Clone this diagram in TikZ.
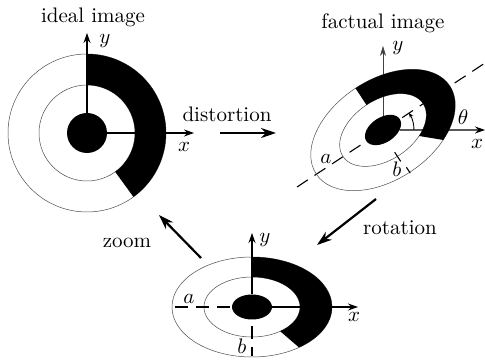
\documentclass[tikz,border=0pt]{standalone}
\usepackage{xcolor}
\usetikzlibrary{arrows.meta,shapes.geometric}

\begin{document}
\begin{tikzpicture}[
x=1pt,
y=1pt,
every node/.style={inner sep=0pt},
imglbl/.style={scale=2.1},
ringline/.style={draw=black!70,line width=0.5pt},
coreblob/.style={ellipse,fill=black,draw=none,inner sep=0pt,minimum width=40pt},
axisarr/.style={-{Stealth[length=10pt,width=7pt]},line width=1.1pt},
thinarr/.style={-{Stealth[length=10pt,width=6pt]},line width=0.6pt,draw=black!75},
steparr/.style={-{Stealth[length=15pt,width=10pt]},line width=2.2pt},
halfdash/.style={line width=1.1pt,dash pattern=on 13pt off 8pt},
anglearr/.style={-{Stealth[length=5pt,width=4pt]},line width=0.9pt}
]
\useasboundingbox (0,0) rectangle (485,361);

% ideal image
\draw[ringline] (87,228) circle [radius=79];
\draw[ringline] (87,228) circle [radius=48];
\begin{scope}[shift={(87,228)}]
\fill (90:79) arc [start angle=90,end angle=-54,radius=79]
  -- (-54:48) arc [start angle=-54,end angle=90,radius=48] -- cycle;
\end{scope}
\node[coreblob,minimum height=40pt] (coreideal) at (87,228) {};
\coordinate (xideal) at (194,228);
\coordinate (yideal) at (87,328);
\draw[axisarr] (coreideal) -- (xideal);
\draw[axisarr] (coreideal) -- (yideal);
\node[imglbl] (ideallbl) at (93,344) {ideal image};
\node[imglbl] (xideallbl) at (184,214) {$x$};
\node[imglbl] (yideallbl) at (105,320) {$y$};

% factual image
\coordinate (dashlow) at (297,174);
\coordinate (dashhigh) at (485,298);
\draw[halfdash] (dashlow) -- (dashhigh);
\coordinate (yfact) at (383,315);
\draw[thinarr] (383,231) -- (yfact);
\draw[ringline,rotate around={33.4:(383,231)}] (383,231) ellipse [x radius=80,y radius=50];
\draw[ringline,rotate around={33.4:(383,231)}] (383,231) ellipse [x radius=48,y radius=30];
\begin{scope}[shift={(383,231)},rotate=33.4]
\fill (90:80 and 50) arc [start angle=90,end angle=-56,x radius=80,y radius=50]
  -- (-56:48 and 30) arc [start angle=-56,end angle=90,x radius=48,y radius=30] -- cycle;
\coordinate (bfactin) at (-2.5,-25);
\coordinate (bfactmid) at (-2.5,-36);
\coordinate (bfactout) at (-1,-44);
\coordinate (bfactend) at (-1,-51);
\end{scope}
\node[coreblob,minimum height=25pt,rotate=33.4] (corefact) at (383,231) {};
\coordinate (xfact) at (485,231);
\draw[axisarr] (corefact) -- (xfact);
\draw[line width=1.1pt] (bfactin) -- (bfactmid);
\draw[line width=1.1pt] (bfactout) -- (bfactend);
\coordinate (thetastart) at (414,231);
\draw[anglearr] (thetastart) arc [start angle=0,end angle=33.4,radius=31];
\node[imglbl] (factlbl) at (383,338) {factual image};
\node[imglbl] (xfactlbl) at (477,217) {$x$};
\node[imglbl] (yfactlbl) at (398,313) {$y$};
\node[imglbl] (thetalbl) at (463,244) {$\theta$};
\node[imglbl] (afactlbl) at (326,202) {$a$};
\node[imglbl] (bfactlbl) at (397,192) {$b$};

% rotated back
\draw[ringline] (252,54) ellipse [x radius=80,y radius=50];
\draw[ringline] (252,54) ellipse [x radius=48,y radius=30];
\begin{scope}[shift={(252,54)}]
\fill (90:80 and 50) arc [start angle=90,end angle=-54,x radius=80,y radius=50]
  -- (-54:48 and 30) arc [start angle=-54,end angle=90,x radius=48,y radius=30] -- cycle;
\end{scope}
\node[coreblob,minimum height=25pt] (corezoom) at (252,54) {};
\coordinate (xzoom) at (358,54);
\coordinate (yzoom) at (252,128);
\coordinate (azoom) at (175,54);
\coordinate (bzoom) at (252,5);
\draw[axisarr] (corezoom) -- (xzoom);
\draw[axisarr] (corezoom) -- (yzoom);
\draw[halfdash] (azoom) -- (corezoom);
\draw[halfdash,dash phase=4pt] (bzoom) -- (corezoom);
\node[imglbl] (xzoomlbl) at (354,44) {$x$};
\node[imglbl] (yzoomlbl) at (265,121) {$y$};
\node[imglbl] (azoomlbl) at (189,62) {$a$};
\node[imglbl] (bzoomlbl) at (242,15) {$b$};

% steps between the images
\coordinate (distfrom) at (220,228);
\coordinate (distto) at (276,228);
\coordinate (rotfrom) at (376,162);
\coordinate (rotto) at (317,116);
\coordinate (zoomfrom) at (201,103);
\coordinate (zoomto) at (159,146);
\draw[steparr] (distfrom) -- (distto);
\draw[steparr] (rotfrom) -- (rotto);
\draw[steparr] (zoomfrom) -- (zoomto);
\node[imglbl] (distlbl) at (227,247) {distortion};
\node[imglbl] (rotlbl) at (400,133) {rotation};
\node[imglbl] (zoomlbl) at (127,118) {zoom};
\end{tikzpicture}
\end{document}
